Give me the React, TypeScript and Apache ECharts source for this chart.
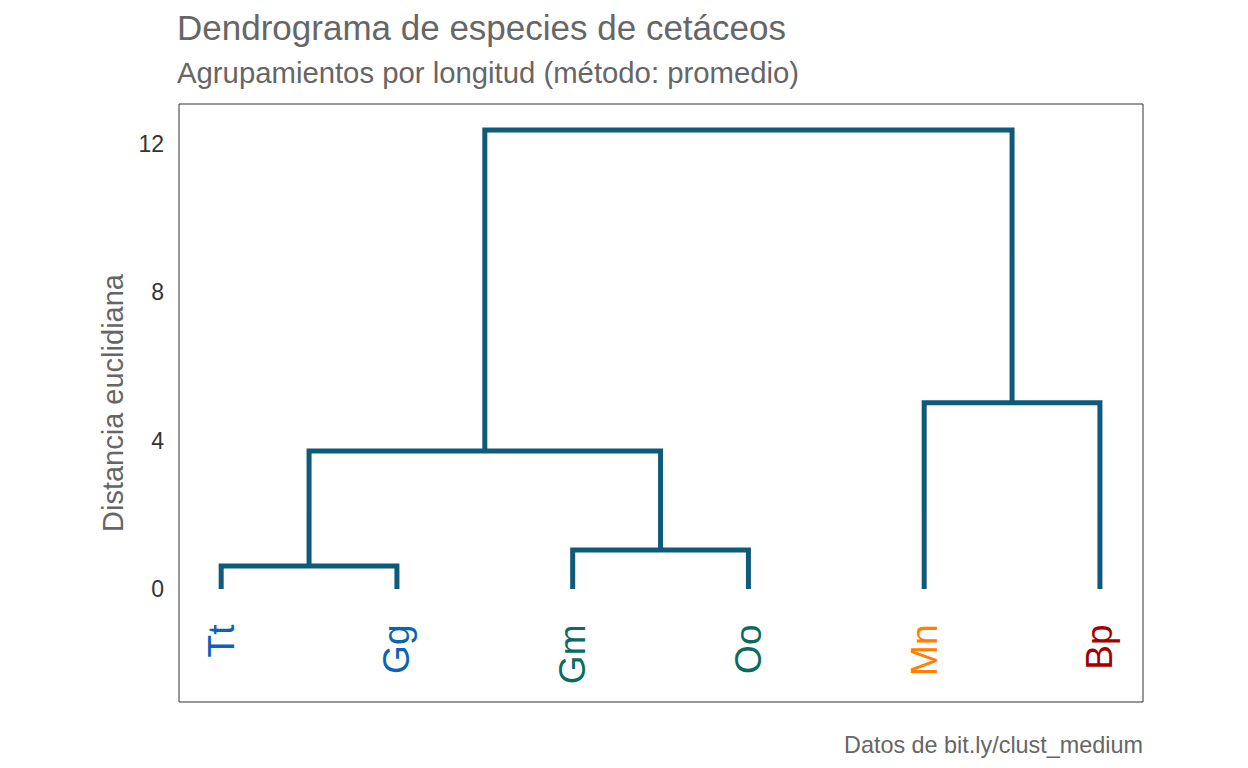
import React, { useEffect, useRef } from "react";
import * as echarts from "echarts";

const leaves = ["Tt", "Gg", "Gm", "Oo", "Mn", "Bp"];
const leafColors = ["#0b63b5", "#0b63b5", "#0b6b5e", "#0b6b5e", "#ff8000", "#a50000"];
// hclust-style merge table: negative = leaf index (1-based), positive = earlier merge
const mergeLeft = [-1, -3, 1, -5, 3];
const mergeRight = [-2, -4, 2, -6, 4];
const mergeHeight = [0.62, 1.05, 3.72, 5.02, 12.38];
const yTicks = [0, 4, 8, 12];

const FONT = "'Liberation Sans', Arial, Helvetica, sans-serif";
const LINE_COLOR = "#0f5a7a";

function buildSegments() {
  const nodeX: number[] = [];
  const nodeH: number[] = [];
  const pos = (ref: number) => (ref < 0 ? [-ref, 0] : [nodeX[ref - 1], nodeH[ref - 1]]);
  const segs: number[][][] = [];
  for (let i = 0; i < mergeHeight.length; i++) {
    const [xl, hl] = pos(mergeLeft[i]);
    const [xr, hr] = pos(mergeRight[i]);
    const h = mergeHeight[i];
    nodeX.push((xl + xr) / 2);
    nodeH.push(h);
    segs.push([
      [xl, hl],
      [xl, h],
      [xr, h],
      [xr, hr],
    ]);
  }
  return segs;
}

export default function App() {
  const ref = useRef<HTMLDivElement>(null);
  useEffect(() => {
    if (!ref.current) return;
    const chart = echarts.init(ref.current, undefined, { renderer: "svg" });
    const segs = buildSegments();
    const series: any[] = segs.map((s, i) => ({
      type: "line",
      name: "m" + i,
      data: s,
      showSymbol: false,
      symbol: "none",
      lineStyle: { color: LINE_COLOR, width: 5, cap: "butt", join: "miter" },
      silent: true,
    }));
    series.push({
      type: "scatter",
      symbolSize: 0,
      silent: true,
      itemStyle: { opacity: 1 },
      data: leaves.map((name, i) => ({
        value: [i + 1, -0.96],
        name,
        label: { color: leafColors[i] },
      })),
      label: {
        show: true,
        formatter: (p: any) => p.name,
        position: "inside",
        rotate: 90,
        align: "right",
        verticalAlign: "middle",
        fontSize: 37,
        opacity: 1,
        fontFamily: FONT,
      },
    });
    chart.setOption({
      animation: false,
      backgroundColor: "#ffffff",
      title: [
        {
          text: "Dendrograma de especies de cetáceos",
          subtext: "Agrupamientos por longitud (método: promedio)",
          left: 172,
          top: 5,
          itemGap: 13,
          textStyle: { fontSize: 35, fontWeight: "normal", color: "#666666", fontFamily: FONT },
          subtextStyle: { fontSize: 29.3, color: "#666666", fontFamily: FONT },
        },
        {
          text: "Datos de bit.ly/clust_medium",
          right: 100,
          top: 728,
          textStyle: { fontSize: 23.4, fontWeight: "normal", color: "#666666", fontFamily: FONT },
        },
      ],
      grid: {
        left: 179,
        top: 104,
        width: 964,
        height: 598,
        show: true,
        borderColor: "#333333",
        borderWidth: 1,
        backgroundColor: "transparent",
      },
      xAxis: {
        type: "value",
        min: 0.76,
        max: 6.245,
        axisLine: { show: false },
        axisTick: { show: false },
        axisLabel: { show: false },
        splitLine: { show: false },
      },
      yAxis: {
        type: "value",
        min: -3.05,
        max: 13.08,
        name: "Distancia euclidiana",
        nameLocation: "middle",
        nameGap: 49,
        nameTextStyle: { fontSize: 29, color: "#666666", fontFamily: FONT },
        axisLine: { show: false },
        axisTick: { show: false },
        splitLine: { show: false },
        axisLabel: {
          customValues: yTicks,
          margin: 15,
          fontSize: 23,
          color: "#333333",
          fontFamily: FONT,
        },
      },
      series,
    });
    return () => chart.dispose();
  }, []);
  return (
    <div
      ref={ref}
      style={{ position: "fixed", left: 0, top: 0, width: 1248, height: 768 }}
    />
  );
}
